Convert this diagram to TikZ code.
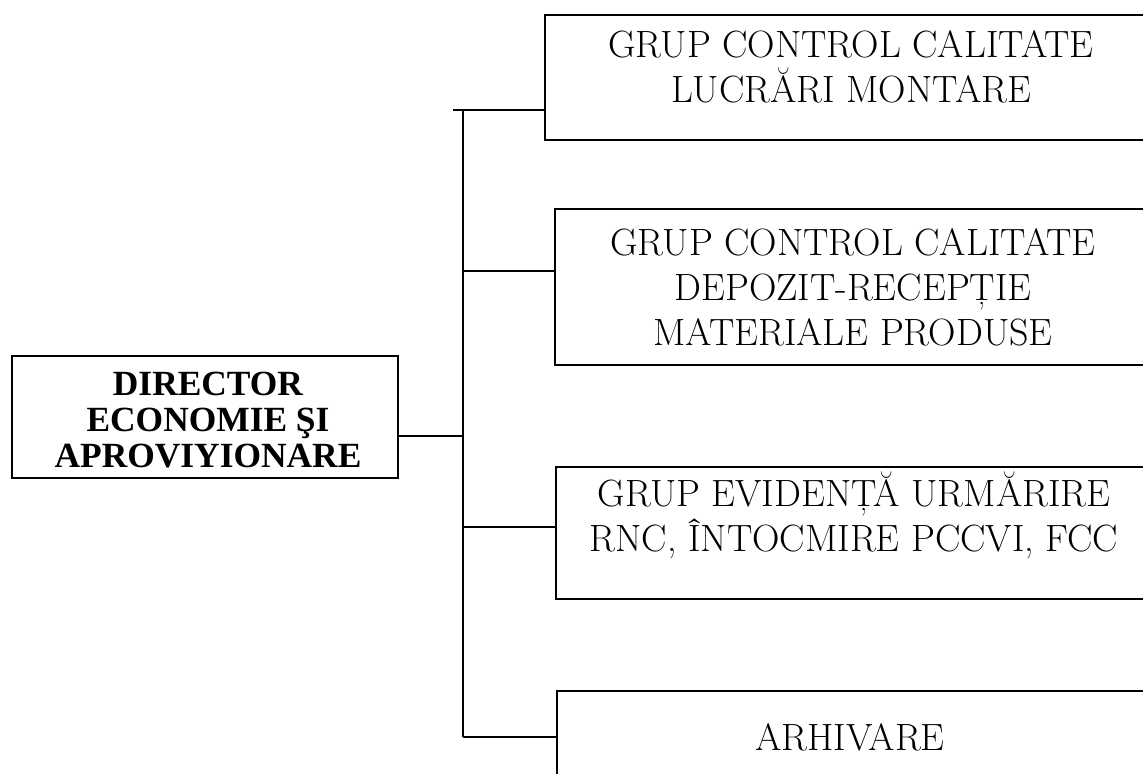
\documentclass[tikz,border=0pt]{standalone}
\usepackage{fontspec}
\newfontfamily\dirfont{Liberation Serif}
\begin{document}
\begin{tikzpicture}[x=0.5pt,y=-0.5pt,
  box/.style={draw,line width=1pt,rectangle,inner sep=0pt},
  lbl/.style={align=center,inner sep=0pt,font=\fontsize{19}{22.5}\selectfont},
  dirlbl/.style={align=center,inner sep=0pt,font=\dirfont\bfseries\fontsize{17.7}{18}\selectfont},
  wire/.style={line width=1pt}]
\useasboundingbox (0,0) rectangle (1143,774);
\clip (0,0) rectangle (1143,774);
% director
\node[box,minimum width=193pt,minimum height=61pt] (dir) at (205,417) {};
\node[dirlbl] (dirt) at (208,420) {DIRECTOR\\ECONOMIE ŞI\\APROVIYIONARE};
% right boxes
\node[box,minimum width=307.5pt,minimum height=62.5pt] (b1) at (852.5,77.5) {};
\node[lbl] (t1) at (851,67) {GRUP CONTROL CALITATE\\LUCRĂRI MONTARE};
\node[box,minimum width=302.5pt,minimum height=78pt] (b2) at (857.5,287) {};
\node[lbl] (t2) at (853,287) {GRUP CONTROL CALITATE\\DEPOZIT-RECEPȚIE\\MATERIALE PRODUSE};
\node[box,minimum width=302pt,minimum height=66pt] (b3) at (858,533) {};
\node[lbl] (t3) at (854,515) {GRUP EVIDENȚĂ URMĂRIRE\\RNC, ÎNTOCMIRE PCCVI, FCC};
\node[box,minimum width=301.5pt,minimum height=60pt] (b4) at (858.5,751) {};
\node[lbl] (t4) at (850,737) {ARHIVARE};
% connectors
\coordinate (top) at (463,110);
\coordinate (bot) at (463,737);
\coordinate (j0) at (463,436);
\coordinate (j1s) at (453,110);
\coordinate (j2) at (463,271);
\coordinate (j3) at (463,527);
\draw[wire] (top) -- (bot);
\draw[wire] (dir.east |- j0) -- (j0);
\draw[wire] (j1s) -- (b1.west |- j1s);
\draw[wire] (j2) -- (b2.west |- j2);
\draw[wire] (j3) -- (b3.west |- j3);
\draw[wire] (bot) -- (b4.west |- bot);
\end{tikzpicture}
\end{document}
